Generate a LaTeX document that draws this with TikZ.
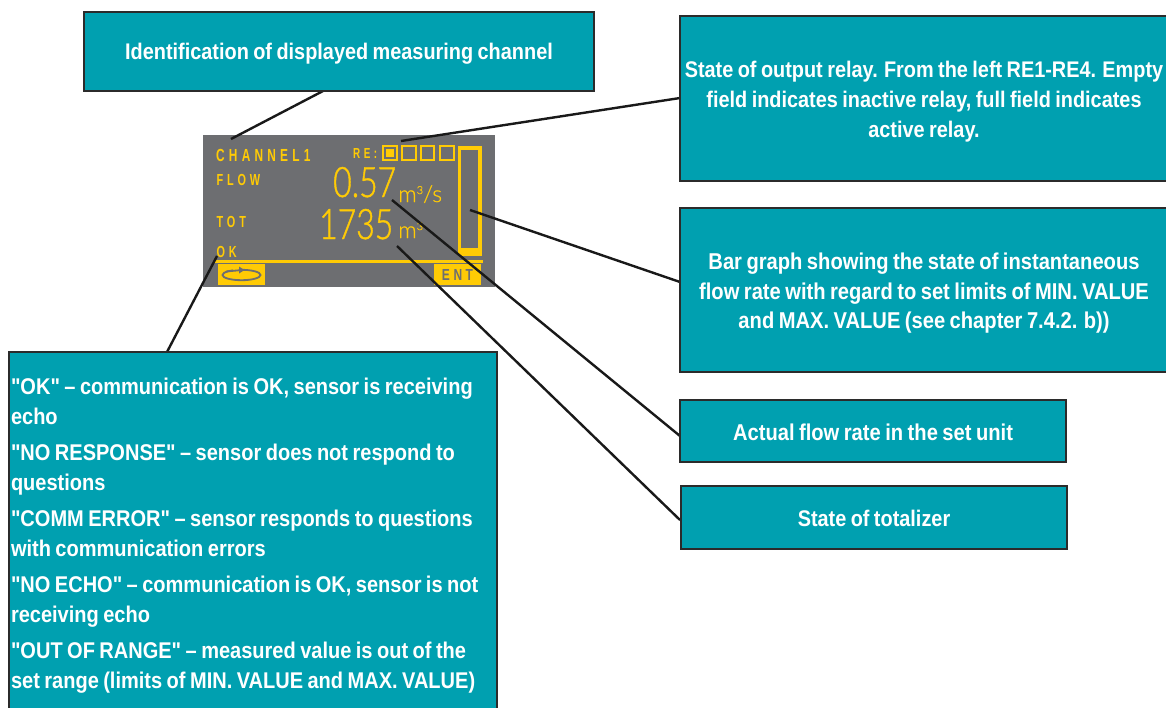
\documentclass[tikz,border=0pt]{standalone}
\usepackage{fontspec}
\setmainfont{Liberation Sans}
\newfontfamily\boxfont[FakeStretch=0.88,WordSpace=0.8]{Liberation Sans Bold}
\newfontfamily\dispfont[FakeStretch=0.68,LetterSpace=24]{Liberation Sans Bold}
\newfontfamily\dispbold[FakeStretch=0.75,LetterSpace=22]{Liberation Sans Bold}
\newfontfamily\numfont[FakeStretch=0.76,FakeBold=1]{Lato Light}
\newfontfamily\unitfont[FakeBold=0.6]{Lato Light}
\definecolor{teal1}{HTML}{00A0B0}
\definecolor{edge1}{HTML}{2B2B2B}
\definecolor{gray1}{HTML}{6D6E71}
\definecolor{yel1}{HTML}{FFCB05}
\tikzset{
 infobox/.style={draw=edge1,line width=2.6pt,fill=teal1,text=white,inner sep=0pt,align=center,
   font=\boxfont\fontsize{22.6}{29.7}\selectfont},
 conn/.style={draw=black!90,line width=2.4pt},
 lbl/.style={text=yel1,anchor=base west,inner sep=0pt,font=\dispfont\fontsize{16}{18}\selectfont},
 bignum/.style={text=yel1,anchor=base west,inner sep=0pt,font=\numfont\fontsize{42}{44}\selectfont},
 unit/.style={text=yel1,anchor=base west,inner sep=0pt,font=\unitfont\fontsize{23}{24}\selectfont},
 relay/.style={draw=yel1,line width=2.2pt,minimum size=13.5pt,inner sep=0pt},
 button/.style={fill=yel1,inner sep=0pt,minimum width=47pt,minimum height=21pt},
}
\begin{document}
\begin{tikzpicture}[x=1pt,y=-1pt]
\useasboundingbox (0,0) rectangle (1166,707);
\clip (0,0) rectangle (1166,707);
% display
\node[fill=gray1,minimum width=292pt,minimum height=152pt,inner sep=0pt] (disp) at (349,211) {};
\node[relay] (r1) at (390,153) {};
\fill[yel1] (386,149) rectangle (394,157);
\node[relay] (r2) at (409,153) {};
\node[relay] (r3) at (427.5,153) {};
\node[relay] (r4) at (447,153) {};
\node[fill=yel1,minimum width=24pt,minimum height=110pt,inner sep=0pt] (bar) at (469.5,201) {};
\fill[gray1] (460.5,149.5) rectangle (478,248);
\fill[yel1] (215,260) rectangle (483,262.7);
\node[button] (btn) at (241.5,274.5) {};
\draw[gray1,line width=1.8pt] (241.5,275) ellipse [x radius=19,y radius=5.2];
\fill[yel1] (233,268) rectangle (243,272);
\draw[gray1,line width=1.8pt] (226,271.5) -- (240,270.2);
\fill[gray1] (239,266.5) -- (244.5,270) -- (239,273.5) -- cycle;
\node[button,text=gray1,font=\dispbold\fontsize{16}{18}\selectfont] (ent) at (457.5,274.5) {ENT};
\node[lbl,font=\dispfont\fontsize{17.5}{18}\selectfont] (tch) at (216,161) {CHANNEL1};
\node[lbl,font=\dispfont\fontsize{14.5}{18}\selectfont] (tre) at (353,158) {RE:};
\node[lbl] (tfl) at (216.5,185) {FLOW};
\node[lbl] (tto) at (216.5,227) {TOT};
\node[lbl] (tok) at (216.5,257) {OK};
\node[bignum] (n1) at (333,197) {0.57};
\node[bignum] (n2) at (319,239) {1735};
\node[unit] (u1) at (398,202) {m\raisebox{8pt}{\fontsize{11}{11}\selectfont 3}/s};
\node[unit] (u2) at (398,238) {m\raisebox{8pt}{\fontsize{11}{11}\selectfont 3}};
% connector ends
\coordinate (a1) at (323,91);   \coordinate (b1) at (231,139);
\coordinate (a2) at (680,98);   \coordinate (b2) at (401,141);
\coordinate (a3) at (680,282);  \coordinate (b3) at (470,210);
\coordinate (a4) at (680,436);  \coordinate (b4) at (392,200);
\coordinate (a5) at (680,520);  \coordinate (b5) at (397,246);
\coordinate (a6) at (167,352);  \coordinate (b6) at (217,256);
\draw[conn] (a1) -- (b1);
\draw[conn] (a2) -- (b2);
\draw[conn] (a3) -- (b3);
\draw[conn] (a4) -- (b4);
\draw[conn] (a5) -- (b5);
\draw[conn] (a6) -- (b6);
% boxes
\node[infobox,minimum width=510pt,minimum height=79pt] (box1) at (339,51.5) {\rule{0pt}{21pt}Identification of displayed measuring channel};
\node[infobox,minimum width=488pt,minimum height=165pt] (box2) at (924,98.5) {\rule{0pt}{23pt}State of output relay. From the left RE1-RE4. Empty\\field indicates inactive relay, full field indicates\\active relay.};
\node[infobox,minimum width=488pt,minimum height=164pt,font=\boxfont\fontsize{22.9}{29.7}\selectfont] (box3) at (924,290) {\rule{0pt}{23pt}Bar graph showing the state of instantaneous\\flow rate with regard to set limits of MIN. VALUE\\and MAX. VALUE (see chapter 7.4.2. b))};
\node[infobox,minimum width=386pt,minimum height=62pt,font=\boxfont\fontsize{22.9}{29.7}\selectfont] (box4) at (873,431) {\rule{0pt}{19pt}Actual flow rate in the set unit};
\node[infobox,minimum width=386pt,minimum height=63pt] (box5) at (874,517.5) {\rule{0pt}{19pt}State of totalizer};
\node[infobox,text width=484pt,minimum height=367pt,inner xsep=2pt,align=flush left,font=\boxfont\fontsize{22.75}{29.4}\selectfont] (box6) at (253,535.5) {"OK" – communication is OK, sensor is receiving\\echo\\[7.2pt]"NO RESPONSE" – sensor does not respond to\\questions\\[7.2pt]"COMM ERROR" – sensor responds to questions\\with communication errors\\[7.2pt]"NO ECHO" – communication is OK, sensor is not\\receiving echo\\[7.2pt]"OUT OF RANGE" – measured value is out of the\\set range (limits of MIN. VALUE and MAX. VALUE)};
\end{tikzpicture}
\end{document}
